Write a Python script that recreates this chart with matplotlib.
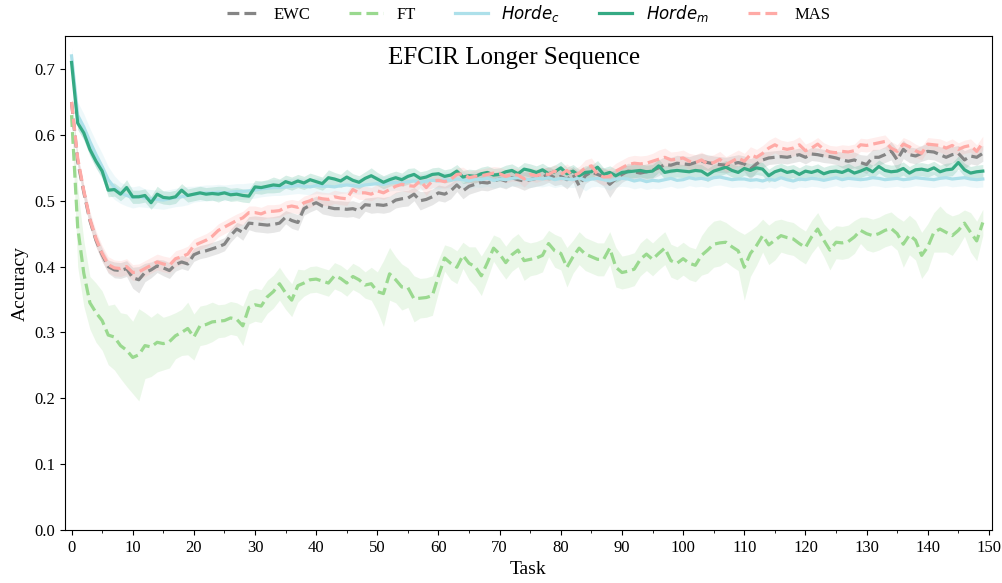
import numpy as np
import matplotlib
matplotlib.use("Agg")
import matplotlib.pyplot as plt
from matplotlib.ticker import MultipleLocator

plt.rcParams['font.family'] = 'serif'
plt.rcParams['font.serif'] = ['Liberation Serif', 'DejaVu Serif']
plt.rcParams['mathtext.fontset'] = 'dejavusans'

# mean accuracy per task (0..149)
ewc = [0.650, 0.560, 0.513, 0.470, 0.440, 0.418, 0.400, 0.395, 0.394, 0.397,
       0.383, 0.380, 0.391, 0.395, 0.401, 0.398, 0.394, 0.403, 0.407, 0.404,
       0.418, 0.422, 0.424, 0.427, 0.430, 0.434, 0.447, 0.457, 0.452, 0.466,
       0.465, 0.464, 0.463, 0.464, 0.466, 0.475, 0.470, 0.467, 0.488, 0.493,
       0.497, 0.492, 0.490, 0.488, 0.488, 0.487, 0.488, 0.485, 0.494, 0.493,
       0.494, 0.493, 0.495, 0.501, 0.503, 0.504, 0.510, 0.500, 0.502, 0.506,
       0.512, 0.510, 0.515, 0.524, 0.515, 0.522, 0.525, 0.528, 0.527, 0.530,
       0.533, 0.530, 0.535, 0.532, 0.530, 0.532, 0.534, 0.536, 0.540, 0.535,
       0.537, 0.532, 0.540, 0.523, 0.538, 0.544, 0.540, 0.536, 0.525, 0.533,
       0.540, 0.545, 0.544, 0.542, 0.544, 0.546, 0.550, 0.555, 0.554, 0.557,
       0.556, 0.555, 0.558, 0.560, 0.558, 0.556, 0.555, 0.554, 0.556, 0.558,
       0.556, 0.548, 0.556, 0.562, 0.565, 0.566, 0.567, 0.566, 0.568, 0.570,
       0.566, 0.571, 0.570, 0.568, 0.567, 0.565, 0.562, 0.560, 0.562, 0.558,
       0.555, 0.566, 0.566, 0.570, 0.576, 0.562, 0.578, 0.570, 0.568, 0.572,
       0.575, 0.574, 0.570, 0.566, 0.570, 0.572, 0.562, 0.568, 0.566, 0.572]

ft = [0.630, 0.460, 0.390, 0.345, 0.330, 0.318, 0.296, 0.293, 0.280, 0.273,
      0.262, 0.266, 0.280, 0.278, 0.285, 0.283, 0.286, 0.295, 0.300, 0.306,
      0.293, 0.310, 0.312, 0.316, 0.317, 0.318, 0.322, 0.320, 0.310, 0.338,
      0.342, 0.340, 0.354, 0.362, 0.374, 0.360, 0.349, 0.371, 0.375, 0.380,
      0.381, 0.378, 0.375, 0.386, 0.382, 0.375, 0.385, 0.380, 0.372, 0.374,
      0.362, 0.359, 0.389, 0.380, 0.369, 0.368, 0.351, 0.352, 0.353, 0.356,
      0.386, 0.413, 0.405, 0.399, 0.417, 0.405, 0.400, 0.386, 0.406, 0.428,
      0.419, 0.406, 0.418, 0.425, 0.409, 0.411, 0.413, 0.417, 0.435, 0.424,
      0.420, 0.399, 0.415, 0.428, 0.419, 0.415, 0.411, 0.411, 0.428, 0.399,
      0.391, 0.393, 0.396, 0.411, 0.419, 0.411, 0.420, 0.428, 0.409, 0.405,
      0.412, 0.405, 0.402, 0.417, 0.425, 0.434, 0.436, 0.437, 0.430, 0.424,
      0.399, 0.420, 0.432, 0.447, 0.433, 0.440, 0.447, 0.444, 0.442, 0.435,
      0.429, 0.445, 0.457, 0.440, 0.425, 0.437, 0.436, 0.438, 0.445, 0.455,
      0.450, 0.447, 0.450, 0.455, 0.458, 0.450, 0.434, 0.448, 0.440, 0.417,
      0.430, 0.452, 0.457, 0.452, 0.447, 0.455, 0.466, 0.452, 0.439, 0.467]

horde_c = [0.720, 0.630, 0.612, 0.590, 0.570, 0.552, 0.532, 0.520, 0.512, 0.508,
           0.505, 0.507, 0.504, 0.503, 0.502, 0.501, 0.503, 0.505, 0.506, 0.508,
           0.510, 0.511, 0.512, 0.512, 0.513, 0.512, 0.513, 0.514, 0.514, 0.515,
           0.516, 0.518, 0.519, 0.520, 0.520, 0.521, 0.522, 0.523, 0.522, 0.521,
           0.523, 0.522, 0.522, 0.521, 0.523, 0.524, 0.523, 0.522, 0.524, 0.525,
           0.526, 0.525, 0.527, 0.528, 0.527, 0.529, 0.530, 0.528, 0.530, 0.531,
           0.530, 0.532, 0.531, 0.533, 0.532, 0.530, 0.533, 0.532, 0.534, 0.531,
           0.533, 0.532, 0.534, 0.535, 0.533, 0.532, 0.534, 0.533, 0.535, 0.532,
           0.534, 0.533, 0.532, 0.535, 0.531, 0.533, 0.534, 0.532, 0.530, 0.533,
           0.534, 0.533, 0.530, 0.532, 0.529, 0.531, 0.530, 0.532, 0.534, 0.531,
           0.532, 0.535, 0.533, 0.534, 0.532, 0.535, 0.536, 0.534, 0.532, 0.533,
           0.533, 0.531, 0.532, 0.530, 0.533, 0.531, 0.535, 0.532, 0.530, 0.533,
           0.532, 0.534, 0.533, 0.531, 0.533, 0.535, 0.532, 0.534, 0.533, 0.532,
           0.533, 0.535, 0.534, 0.532, 0.533, 0.534, 0.532, 0.533, 0.535, 0.534,
           0.533, 0.532, 0.534, 0.535, 0.533, 0.534, 0.535, 0.533, 0.532, 0.533]

horde_m = [0.710, 0.618, 0.603, 0.578, 0.560, 0.545, 0.516, 0.517, 0.510, 0.520,
           0.506, 0.506, 0.508, 0.497, 0.510, 0.505, 0.504, 0.506, 0.516, 0.508,
           0.510, 0.512, 0.510, 0.511, 0.510, 0.512, 0.509, 0.510, 0.508, 0.507,
           0.521, 0.520, 0.522, 0.524, 0.523, 0.529, 0.526, 0.530, 0.527, 0.532,
           0.529, 0.526, 0.535, 0.533, 0.530, 0.536, 0.531, 0.528, 0.534, 0.538,
           0.533, 0.528, 0.532, 0.535, 0.532, 0.537, 0.540, 0.534, 0.536, 0.540,
           0.541, 0.537, 0.539, 0.545, 0.536, 0.538, 0.537, 0.541, 0.543, 0.539,
           0.540, 0.544, 0.546, 0.541, 0.548, 0.546, 0.543, 0.547, 0.541, 0.544,
           0.550, 0.541, 0.545, 0.538, 0.543, 0.544, 0.551, 0.540, 0.543, 0.538,
           0.543, 0.544, 0.545, 0.546, 0.544, 0.545, 0.553, 0.543, 0.545, 0.546,
           0.545, 0.544, 0.546, 0.545, 0.539, 0.545, 0.548, 0.551, 0.546, 0.543,
           0.549, 0.546, 0.550, 0.548, 0.538, 0.544, 0.547, 0.543, 0.545, 0.540,
           0.545, 0.543, 0.546, 0.541, 0.544, 0.545, 0.543, 0.547, 0.542, 0.545,
           0.549, 0.544, 0.552, 0.546, 0.544, 0.545, 0.549, 0.542, 0.547, 0.548,
           0.546, 0.550, 0.544, 0.547, 0.548, 0.558, 0.547, 0.542, 0.544, 0.545]

mas = [0.650, 0.565, 0.515, 0.472, 0.442, 0.420, 0.403, 0.398, 0.397, 0.400,
       0.391, 0.392, 0.397, 0.402, 0.407, 0.404, 0.402, 0.412, 0.415, 0.419,
       0.432, 0.436, 0.440, 0.446, 0.455, 0.460, 0.465, 0.470, 0.474, 0.482,
       0.482, 0.480, 0.484, 0.484, 0.485, 0.490, 0.492, 0.490, 0.497, 0.500,
       0.505, 0.503, 0.502, 0.506, 0.504, 0.503, 0.517, 0.512, 0.512, 0.510,
       0.515, 0.512, 0.517, 0.522, 0.525, 0.523, 0.522, 0.530, 0.520, 0.530,
       0.531, 0.529, 0.532, 0.540, 0.541, 0.535, 0.537, 0.538, 0.540, 0.542,
       0.541, 0.537, 0.540, 0.539, 0.533, 0.540, 0.538, 0.541, 0.540, 0.545,
       0.540, 0.546, 0.538, 0.542, 0.550, 0.553, 0.540, 0.536, 0.537, 0.545,
       0.550, 0.555, 0.557, 0.556, 0.557, 0.560, 0.563, 0.566, 0.562, 0.563,
       0.565, 0.560, 0.558, 0.562, 0.556, 0.558, 0.563, 0.555, 0.560, 0.565,
       0.560, 0.570, 0.566, 0.572, 0.580, 0.585, 0.580, 0.578, 0.580, 0.585,
       0.576, 0.580, 0.586, 0.578, 0.574, 0.573, 0.575, 0.574, 0.576, 0.585,
       0.584, 0.586, 0.588, 0.590, 0.580, 0.575, 0.586, 0.582, 0.576, 0.572,
       0.586, 0.585, 0.584, 0.580, 0.584, 0.578, 0.582, 0.584, 0.575, 0.588]

# spread (half-width of shaded band)
ewc_sd = [0.004, 0.008, 0.010, 0.010, 0.010, 0.010, 0.010, 0.012, 0.012, 0.012,
          0.016, 0.020, 0.014, 0.012, 0.010, 0.012, 0.012, 0.010, 0.010, 0.010,
          0.010, 0.010, 0.010, 0.010, 0.010, 0.010, 0.010, 0.010, 0.012, 0.010,
          0.012, 0.012, 0.012, 0.012, 0.012, 0.010, 0.012, 0.012, 0.010, 0.010,
          0.010, 0.012, 0.012, 0.012, 0.012, 0.012, 0.012, 0.012, 0.010, 0.012,
          0.012, 0.012, 0.012, 0.012, 0.012, 0.012, 0.010, 0.014, 0.012, 0.012,
          0.012, 0.012, 0.012, 0.010, 0.012, 0.012, 0.012, 0.012, 0.012, 0.012,
          0.012, 0.012, 0.012, 0.012, 0.014, 0.012, 0.012, 0.012, 0.012, 0.012,
          0.012, 0.014, 0.012, 0.020, 0.012, 0.012, 0.012, 0.014, 0.020, 0.014,
          0.012, 0.012, 0.012, 0.012, 0.012, 0.012, 0.012, 0.012, 0.012, 0.012,
          0.012, 0.012, 0.012, 0.012, 0.012, 0.012, 0.012, 0.012, 0.012, 0.012,
          0.012, 0.016, 0.012, 0.012, 0.010, 0.010, 0.010, 0.010, 0.010, 0.010,
          0.010, 0.010, 0.010, 0.010, 0.010, 0.010, 0.012, 0.012, 0.012, 0.012,
          0.014, 0.012, 0.012, 0.012, 0.014, 0.016, 0.014, 0.012, 0.012, 0.012,
          0.012, 0.012, 0.012, 0.014, 0.012, 0.012, 0.014, 0.012, 0.012, 0.012]

ft_sd = [0.005, 0.060, 0.050, 0.040, 0.045, 0.045, 0.045, 0.050, 0.050, 0.055,
         0.055, 0.070, 0.050, 0.045, 0.045, 0.040, 0.040, 0.035, 0.035, 0.040,
         0.035, 0.030, 0.030, 0.030, 0.025, 0.025, 0.025, 0.025, 0.030, 0.025,
         0.025, 0.025, 0.025, 0.025, 0.025, 0.025, 0.025, 0.025, 0.020, 0.020,
         0.020, 0.020, 0.020, 0.020, 0.020, 0.020, 0.020, 0.020, 0.020, 0.025,
         0.030, 0.050, 0.040, 0.035, 0.035, 0.030, 0.035, 0.030, 0.030, 0.030,
         0.025, 0.020, 0.025, 0.025, 0.020, 0.025, 0.030, 0.030, 0.025, 0.020,
         0.025, 0.025, 0.025, 0.025, 0.030, 0.025, 0.025, 0.025, 0.020, 0.025,
         0.025, 0.030, 0.025, 0.025, 0.025, 0.025, 0.025, 0.025, 0.025, 0.030,
         0.025, 0.025, 0.025, 0.025, 0.025, 0.025, 0.025, 0.025, 0.025, 0.025,
         0.025, 0.025, 0.025, 0.030, 0.035, 0.035, 0.035, 0.030, 0.030, 0.030,
         0.050, 0.035, 0.030, 0.025, 0.030, 0.030, 0.025, 0.025, 0.025, 0.025,
         0.025, 0.025, 0.025, 0.025, 0.030, 0.025, 0.025, 0.025, 0.025, 0.020,
         0.025, 0.025, 0.025, 0.025, 0.025, 0.025, 0.035, 0.030, 0.030, 0.035,
         0.035, 0.030, 0.035, 0.030, 0.030, 0.025, 0.020, 0.030, 0.030, 0.020]

horde_c_sd = [0.012, 0.020, 0.020, 0.020, 0.020, 0.020, 0.020, 0.018, 0.016, 0.016,
              0.016, 0.016, 0.014, 0.014, 0.014, 0.014, 0.014, 0.014, 0.014, 0.014,
              0.012, 0.012, 0.012, 0.012, 0.012, 0.012, 0.012, 0.012, 0.012, 0.012,
              0.012, 0.012, 0.012, 0.012, 0.012, 0.012, 0.012, 0.012, 0.012, 0.012,
              0.012, 0.012, 0.012, 0.012, 0.012, 0.012, 0.012, 0.012, 0.012, 0.012,
              0.012, 0.012, 0.012, 0.012, 0.012, 0.012, 0.012, 0.012, 0.012, 0.012,
              0.012, 0.012, 0.012, 0.012, 0.012, 0.012, 0.012, 0.012, 0.012, 0.012,
              0.012, 0.012, 0.012, 0.012, 0.012, 0.012, 0.012, 0.012, 0.012, 0.012,
              0.012, 0.012, 0.012, 0.012, 0.016, 0.012, 0.012, 0.012, 0.014, 0.012,
              0.012, 0.012, 0.012, 0.012, 0.012, 0.012, 0.012, 0.012, 0.012, 0.012,
              0.012, 0.012, 0.012, 0.012, 0.012, 0.012, 0.012, 0.012, 0.012, 0.012,
              0.012, 0.012, 0.012, 0.012, 0.012, 0.012, 0.012, 0.012, 0.012, 0.012,
              0.012, 0.012, 0.012, 0.012, 0.012, 0.012, 0.012, 0.012, 0.012, 0.012,
              0.012, 0.012, 0.012, 0.012, 0.012, 0.012, 0.012, 0.012, 0.012, 0.012,
              0.012, 0.012, 0.012, 0.012, 0.012, 0.012, 0.012, 0.012, 0.012, 0.012]

horde_m_sd = [0.006, 0.010, 0.010, 0.010, 0.010, 0.010, 0.010, 0.010, 0.010, 0.012,
              0.010, 0.010, 0.010, 0.010, 0.012, 0.010, 0.010, 0.010, 0.010, 0.010,
              0.010, 0.010, 0.010, 0.010, 0.012, 0.010, 0.010, 0.010, 0.010, 0.010,
              0.010, 0.010, 0.010, 0.012, 0.010, 0.010, 0.010, 0.010, 0.010, 0.010,
              0.010, 0.010, 0.012, 0.010, 0.010, 0.012, 0.010, 0.010, 0.010, 0.012,
              0.010, 0.010, 0.010, 0.010, 0.010, 0.012, 0.010, 0.010, 0.010, 0.010,
              0.010, 0.010, 0.010, 0.010, 0.010, 0.010, 0.010, 0.010, 0.010, 0.010,
              0.010, 0.010, 0.010, 0.010, 0.010, 0.010, 0.010, 0.010, 0.010, 0.010,
              0.010, 0.010, 0.010, 0.010, 0.010, 0.010, 0.010, 0.010, 0.010, 0.010,
              0.010, 0.010, 0.010, 0.010, 0.010, 0.010, 0.010, 0.010, 0.010, 0.010,
              0.010, 0.010, 0.010, 0.010, 0.010, 0.010, 0.010, 0.010, 0.010, 0.010,
              0.010, 0.010, 0.010, 0.010, 0.010, 0.010, 0.010, 0.010, 0.010, 0.010,
              0.010, 0.010, 0.010, 0.010, 0.010, 0.010, 0.010, 0.010, 0.010, 0.010,
              0.010, 0.010, 0.010, 0.010, 0.010, 0.010, 0.010, 0.010, 0.010, 0.010,
              0.010, 0.010, 0.010, 0.010, 0.010, 0.010, 0.010, 0.010, 0.010, 0.010]

mas_sd = [0.004, 0.008, 0.010, 0.012, 0.012, 0.012, 0.012, 0.012, 0.012, 0.012,
          0.012, 0.012, 0.012, 0.012, 0.012, 0.012, 0.012, 0.012, 0.012, 0.012,
          0.010, 0.010, 0.010, 0.010, 0.010, 0.010, 0.010, 0.010, 0.010, 0.010,
          0.010, 0.010, 0.010, 0.010, 0.010, 0.010, 0.010, 0.010, 0.010, 0.010,
          0.010, 0.010, 0.010, 0.010, 0.010, 0.010, 0.010, 0.010, 0.010, 0.010,
          0.010, 0.010, 0.010, 0.010, 0.010, 0.010, 0.010, 0.010, 0.012, 0.010,
          0.010, 0.010, 0.010, 0.010, 0.010, 0.010, 0.010, 0.010, 0.010, 0.010,
          0.010, 0.010, 0.010, 0.010, 0.012, 0.010, 0.010, 0.010, 0.010, 0.010,
          0.010, 0.010, 0.010, 0.010, 0.012, 0.012, 0.012, 0.012, 0.012, 0.012,
          0.012, 0.012, 0.012, 0.012, 0.012, 0.012, 0.014, 0.014, 0.012, 0.012,
          0.012, 0.012, 0.012, 0.012, 0.012, 0.012, 0.012, 0.012, 0.012, 0.012,
          0.012, 0.012, 0.012, 0.012, 0.012, 0.012, 0.012, 0.012, 0.012, 0.012,
          0.010, 0.010, 0.010, 0.010, 0.010, 0.010, 0.010, 0.010, 0.010, 0.010,
          0.010, 0.010, 0.010, 0.010, 0.010, 0.010, 0.010, 0.010, 0.010, 0.010,
          0.010, 0.010, 0.010, 0.010, 0.010, 0.010, 0.010, 0.010, 0.010, 0.010]

labels = ['EWC', 'FT', r'$Horde_c$', r'$Horde_m$', 'MAS']
colors = ['#858585', '#9ad98f', '#ade0ea', '#35aa84', '#ffaaa6']
styles = ['--', '--', '-', '-', '--']
means = [ewc, ft, horde_c, horde_m, mas]
spreads = [ewc_sd, ft_sd, horde_c_sd, horde_m_sd, mas_sd]

tasks = np.arange(len(ewc))

fig, ax = plt.subplots(figsize=(10.02, 5.83), dpi=100)
fig.subplots_adjust(left=0.065, right=0.990, top=0.938, bottom=0.091)

for m, s, c, ls, lab in zip(means, spreads, colors, styles, labels):
    m = np.array(m)
    s = np.array(s)
    ax.fill_between(tasks, m - s, m + s, color=c, alpha=0.2, linewidth=0)
    ax.plot(tasks, m, ls, color=c, lw=2.3, label=lab)

ax.set_xlim(-1.05, 150.5)
ax.set_ylim(0, 0.75)
ax.xaxis.set_major_locator(MultipleLocator(10))
ax.xaxis.set_minor_locator(MultipleLocator(5))
ax.yaxis.set_major_locator(MultipleLocator(0.1))
ax.tick_params(labelsize=12)
ax.set_xlabel('Task', fontsize=14, labelpad=4)
ax.set_ylabel('Accuracy', fontsize=14)
ax.text(0.484, 0.979, 'EFCIR Longer Sequence', transform=ax.transAxes,
        ha='center', va='top', fontsize=18)

ax.legend(loc='lower center', bbox_to_anchor=(0.5, 0.995), ncol=5,
          frameon=False, fontsize=12, columnspacing=2.35)

plt.savefig('out.png', dpi=100)
